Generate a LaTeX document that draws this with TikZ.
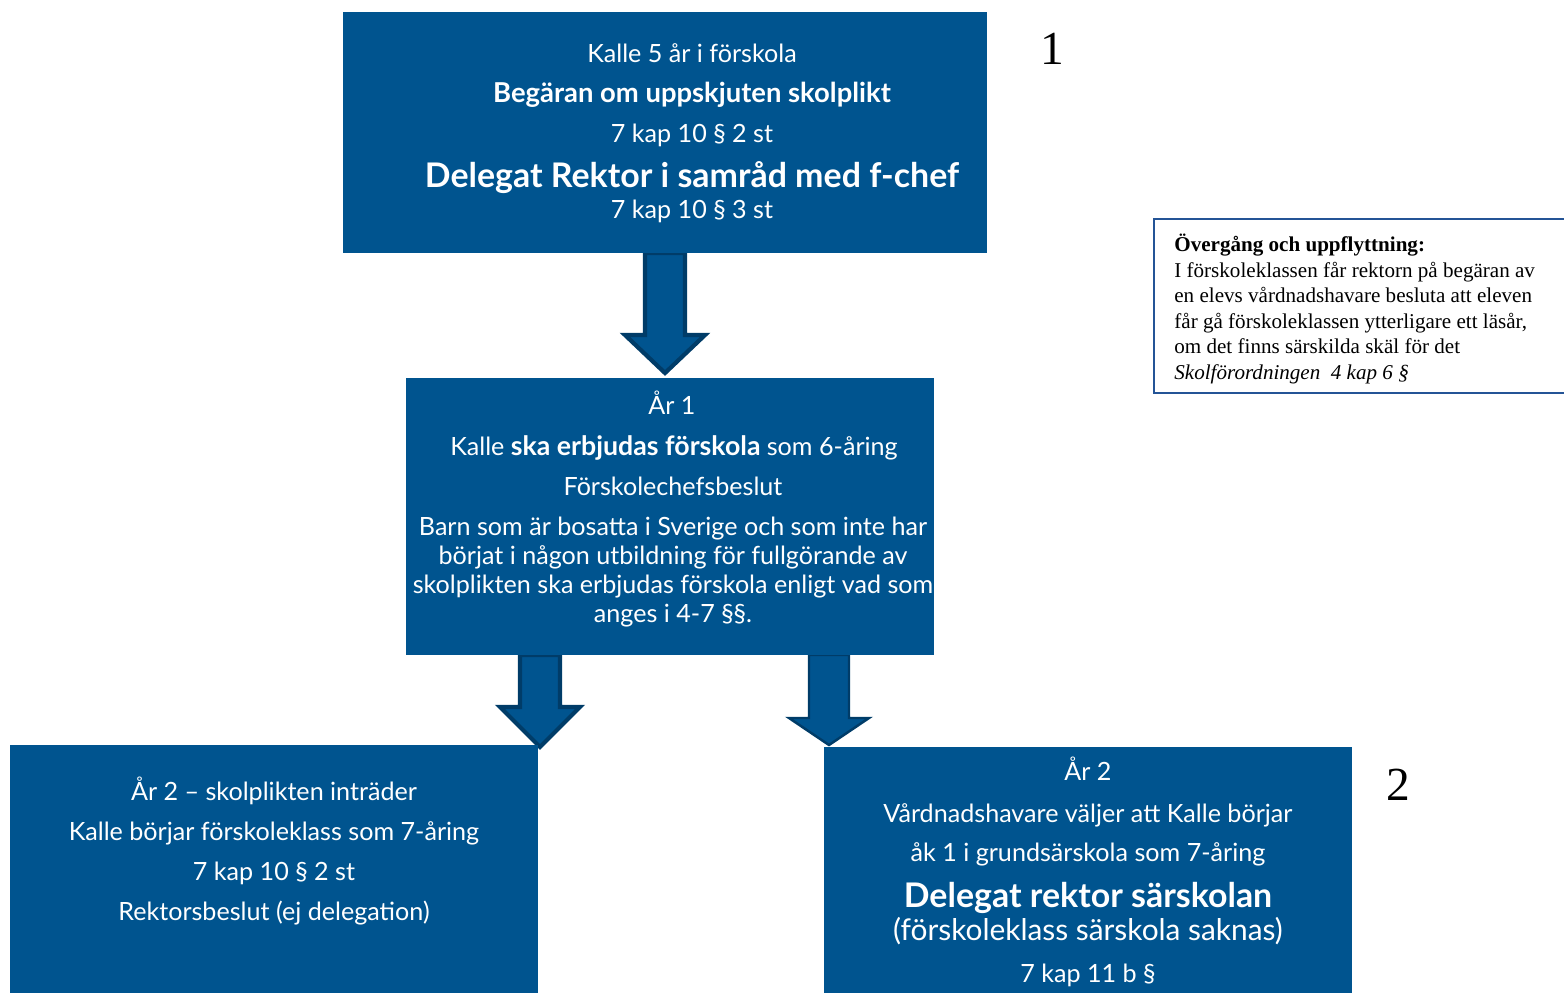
\documentclass[tikz,border=0pt]{standalone}
\usepackage{fontspec}
\setmainfont{Lato}
\newfontfamily\timesfont{Liberation Serif}
\usetikzlibrary{calc}
\definecolor{boxblue}{RGB}{0,84,143}
\definecolor{edgeblue}{RGB}{0,60,104}
\definecolor{frameblue}{RGB}{36,84,150}
\tikzset{every node/.style={inner sep=0pt}}
\tikzset{
  box/.style={fill=boxblue, anchor=north west},
  txt/.style={text=white, anchor=base, font=\fontsize{14.3}{17}\selectfont},
  txtbf/.style={txt, font=\fontsize{15.6}{18}\selectfont\bfseries},
  txtbig/.style={txt, font=\fontsize{19.3}{22}\selectfont\bfseries},
  txtmid/.style={txt, font=\fontsize{17}{20}\selectfont},
  blockarrow/.style={fill=boxblue, draw=edgeblue, line width=2.4pt, line join=miter},
  stepnum/.style={anchor=base, font=\timesfont\fontsize{27}{30}\selectfont}
}
% block arrow: [style] start, tip, head length
\newcommand{\BlockArrow}[4][]{%
  \draw[blockarrow,#1] ($(#2)+(-20,0)$) -- ($(#3)+(-20,-#4)$) -- ($(#3)+(-40,-#4)$)
    -- (#3) -- ($(#3)+(40,-#4)$) -- ($(#3)+(20,-#4)$) -- ($(#2)+(20,0)$) -- cycle;}

\begin{document}
\begin{tikzpicture}[x=0.02cm, y=-0.02cm]
 \useasboundingbox (0,0) rectangle (1564,993);

 % boxes (positions only, drawn below the arrows later)
 \path (343,12) coordinate (TL);
 \path (406,378) coordinate (ML);
 \path (10,745) coordinate (LL);
 \path (824,747) coordinate (RL);

 \coordinate (A1) at ($(TL)+(322,241)$);
 \coordinate (T1) at ($(A1|-ML)+(0,-5)$);
 \coordinate (A2) at ($(ML)+(134,277)$);
 \coordinate (T2) at ($(A2|-LL)+(0,2)$);
 \coordinate (A3) at ($(ML)+(423,277)$);
 \coordinate (T3) at ($(A3|-RL)+(0,-2)$);

 % pilar
 \BlockArrow{A1}{T1}{38}
 \BlockArrow{A2}{T2}{40}
 \BlockArrow[line width=1.4pt]{A3}{T3}{27}

 \node[box, minimum width=12.88cm, minimum height=4.82cm] (top) at (TL) {};
 \node[box, minimum width=10.56cm, minimum height=5.54cm] (mid) at (ML) {};
 \node[box, minimum width=10.56cm, minimum height=4.98cm] (left) at (LL) {};
 \node[box, minimum width=10.56cm, minimum height=4.94cm] (right) at (RL) {};

 % top box
 \node[txt] (t1) at (692,63) {Kalle 5 år i förskola};
 \node[txtbf] (t2) at (692,103) {Begäran om uppskjuten skolplikt};
 \node[txt] (t3) at (692,143) {7 kap 10 § 2 st};
 \node[txtbig] (t4) at (692,188) {Delegat Rektor i samråd med f-chef};
 \node[txt] (t5) at (692,218) {7 kap 10 § 3 st};

 % middle box
 \node[txt] (m1) at (672,414) {År 1};
 \node[txt] (m2) at (674,455) {Kalle {\fontsize{15.2}{17}\selectfont\bfseries ska erbjudas förskola} som 6-åring};
 \node[txt] (m3) at (673,495) {Förskolechefsbeslut};
 \node[txt] (m4) at (673,535) {Barn som är bosatta i Sverige och som inte har};
 \node[txt] (m5) at (673,564) {börjat i någon utbildning för fullgörande av};
 \node[txt] (m6) at (673,593) {skolplikten ska erbjudas förskola enligt vad som};
 \node[txt] (m7) at (673,622) {anges i 4-7 §§.};

 % bottom left
 \node[txt] (l1) at (274,800) {År 2 -- skolplikten inträder};
 \node[txt] (l2) at (274,840) {Kalle börjar förskoleklass som 7-åring};
 \node[txt] (l3) at (274,880) {7 kap 10 § 2 st};
 \node[txt] (l4) at (274,920) {Rektorsbeslut (ej delegation)};

 % bottom right
 \node[txt] (r1) at (1088,780) {År 2};
 \node[txt] (r2) at (1088,822) {Vårdnadshavare väljer att Kalle börjar};
 \node[txt] (r3) at (1088,861) {åk 1 i grundsärskola som 7-åring};
 \node[txtbig] (r4) at (1088,907) {Delegat rektor särskolan};
 \node[txtmid] (r5) at (1088,940) {(förskoleklass särskola saknas)};
 \node[txt] (r6) at (1088,982) {7 kap 11 b §};

 % note
 \draw[frameblue, line width=1.1pt] (1154,219) rectangle (1580,393);
 \node[anchor=north west, align=left, font=\timesfont\fontsize{12}{14.5}\selectfont] (note) at (1174,234)
   {\textbf{Övergång och uppflyttning:}\\
    I förskoleklassen får rektorn på begäran av\\
    en elevs vårdnadshavare besluta att eleven\\
    får gå förskoleklassen ytterligare ett läsår,\\
    om det finns särskilda skäl för det\\
    \textit{Skolförordningen\ \ 4 kap 6 §}};

 \node[stepnum] (n1) at (1052,65) {1};
 \node[stepnum] (n2) at (1398,800) {2};
\end{tikzpicture}
\end{document}
